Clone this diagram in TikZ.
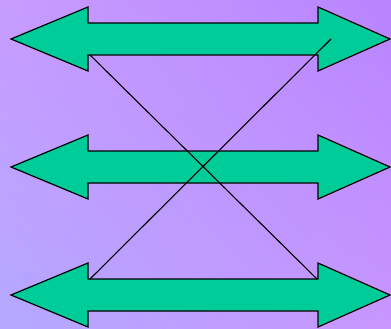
\documentclass[tikz,border=0pt]{standalone}
\usetikzlibrary{shadings}
\definecolor{bgUL}{RGB}{200,156,255}
\definecolor{bgUR}{RGB}{184,132,255}
\definecolor{bgLL}{RGB}{180,168,255}
\definecolor{bgLR}{RGB}{200,150,255}
\definecolor{arrowgreen}{RGB}{0,204,153}
\begin{document}
\begin{tikzpicture}[x=1pt,y=-1pt,
  dblarrow/.style={fill=arrowgreen,draw=black,line width=1.2pt,line join=miter},
  crossline/.style={draw=black,line width=1.1pt}]
\useasboundingbox (0,0) rectangle (391,329);
\shade[upper left=bgUL,upper right=bgUR,lower left=bgLL,lower right=bgLR]
  (0,0) rectangle (391,329);
% arrows: tip y = c, head half 32, shaft half 16
\foreach \c/\n in {39/top,167/mid,295/bot}{
  \path[dblarrow] (11,\c) -- (88,\c-32) -- (88,\c-16) -- (318,\c-16) -- (318,\c-32) -- (390,\c)
     -- (318,\c+32) -- (318,\c+16) -- (88,\c+16) -- (88,\c+32) -- cycle;
  \coordinate (\n-sl) at (90,\c+16);
  \coordinate (\n-tr) at (317,\c-16);
  \coordinate (\n-tl) at (90,\c-16);
}
\coordinate (freeend) at (331,39);
\draw[crossline] (top-sl) -- (bot-tr);
\draw[crossline] (bot-tl) -- (freeend);
\end{tikzpicture}
\end{document}
